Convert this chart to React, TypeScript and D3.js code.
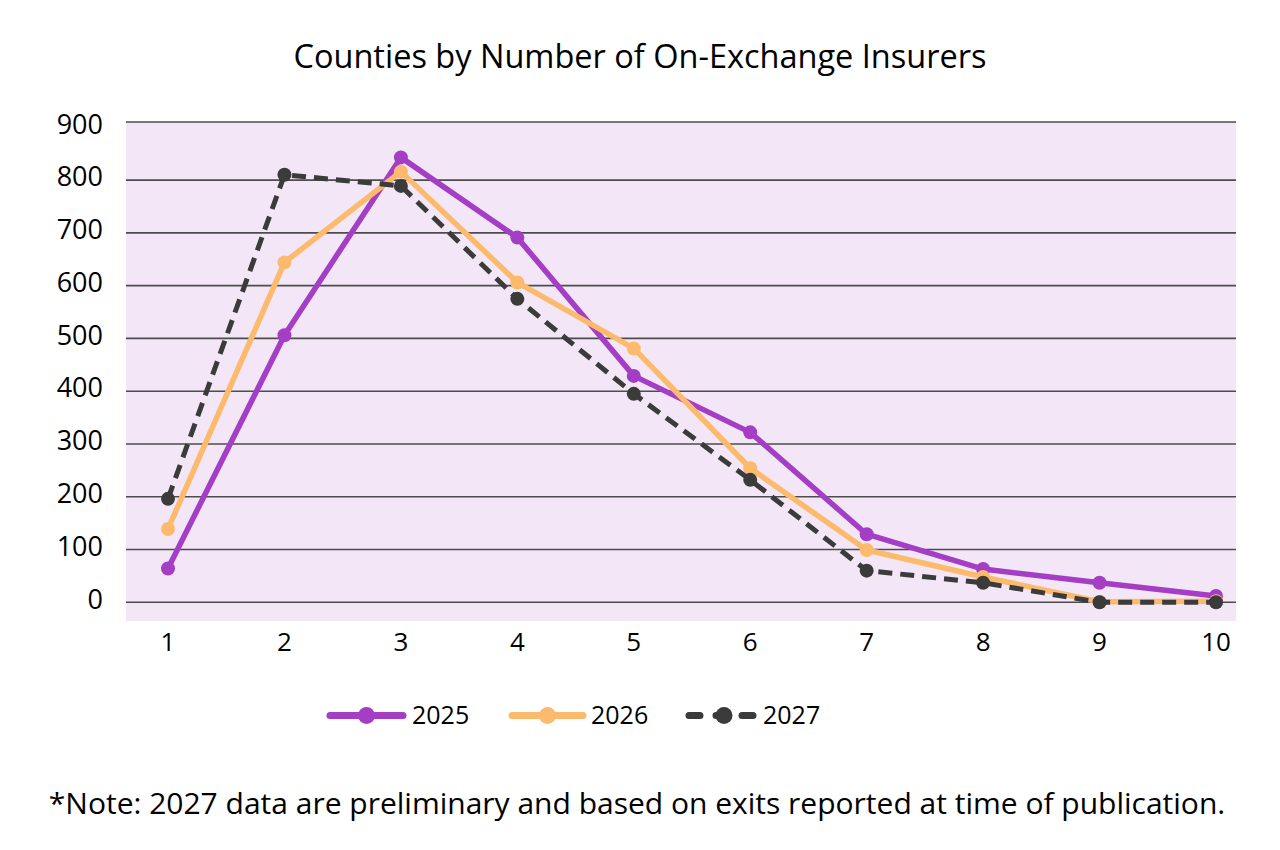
import * as d3 from "d3";

const categories = [1, 2, 3, 4, 5, 6, 7, 8, 9, 10];
const values2025 = [64, 506, 843, 691, 429, 322, 129, 63, 37, 12];
const values2026 = [139, 644, 816, 606, 481, 254, 99, 48, 1, 2];
const values2027 = [196, 810, 789, 575, 395, 232, 60, 37, 0, 0];
const yTicks = [0, 100, 200, 300, 400, 500, 600, 700, 800, 900];

const series = [
    { name: "2025", values: values2025, color: "#A43EC5", dash: null as string | null },
    { name: "2026", values: values2026, color: "#FCBA6C", dash: null as string | null },
    { name: "2027", values: values2027, color: "#3B3B3B", dash: "14 8" },
];

const W = 1280;
const H = 850;
const FONT = "'Open Sans', 'Noto Sans', sans-serif";

export default function App() {
    const x = d3.scaleLinear().domain([1, 10]).range([168, 1216]);
    const y = d3.scaleLinear().domain([0, 900]).range([602.3, 127.3]);
    const plotLeft = 126;
    const plotRight = 1236;
    const plotTop = 122;
    const plotBottom = 621;

    const line = d3
        .line<number>()
        .x((_, i) => x(categories[i]))
        .y((v) => y(v));

    // legend swatch extents and label start
    const legend = [
        { x0: 330, x1: 403, text: 412 },
        { x0: 512, x1: 583, text: 591 },
        { x0: 689, x1: 753, text: 763 },
    ];

    return (
        <svg width={W} height={H} style={{ position: "absolute", left: 0, top: 0 }}>
            <rect width={W} height={H} fill="#fff" />
            <text x={640} y={68} textAnchor="middle" fontFamily={FONT} fontSize={32.5} fill="#000">
                Counties by Number of On-Exchange Insurers
            </text>

            <rect
                x={plotLeft}
                y={plotTop}
                width={plotRight - plotLeft}
                height={plotBottom - plotTop}
                fill="#F3E6F7"
            />

            {yTicks.map((t) => {
                const yy = t === 900 ? plotTop : y(t);
                return (
                    <g key={t}>
                        <line x1={plotLeft} x2={plotRight} y1={yy} y2={yy} stroke="#4d4d4d" strokeWidth={1.6} />
                        <text
                            x={103}
                            y={y(t) - 1}
                            textAnchor="end"
                            dominantBaseline="middle"
                            fontFamily={FONT}
                            fontSize={27}
                            fill="#000"
                        >
                            {t}
                        </text>
                    </g>
                );
            })}

            {categories.map((c) => (
                <text
                    key={c}
                    x={x(c)}
                    y={651}
                    textAnchor="middle"
                    fontFamily={FONT}
                    fontSize={26}
                    fill="#000"
                >
                    {c}
                </text>
            ))}

            {series.map((s) => (
                <g key={s.name}>
                    <path
                        d={line(s.values) ?? ""}
                        fill="none"
                        stroke={s.color}
                        strokeWidth={s.dash ? 5 : 5.5}
                        strokeDasharray={s.dash ?? undefined}
                        strokeLinejoin="round"
                    />
                    {s.values.map((v, i) => (
                        <circle key={i} cx={x(categories[i])} cy={y(v)} r={7} fill={s.color} />
                    ))}
                </g>
            ))}

            {series.map((s, i) => {
                const l = legend[i];
                const cx = i === 2 ? 724 : (l.x0 + l.x1) / 2;
                return (
                    <g key={s.name}>
                        <line
                            x1={l.x0}
                            x2={l.x1}
                            y1={715.5}
                            y2={715.5}
                            stroke={s.color}
                            strokeWidth={7}
                            strokeLinecap="round"
                            strokeDasharray={s.dash ? "11 16 10 16 11" : undefined}
                        />
                        <circle cx={cx} cy={715.5} r={8.5} fill={s.color} />
                        <text
                            x={l.text}
                            y={724}
                            textAnchor="start"
                            fontFamily={FONT}
                            fontSize={25}
                            fill="#000"
                        >
                            {s.name}
                        </text>
                    </g>
                );
            })}

            <text x={637} y={814} textAnchor="middle" fontFamily={FONT} fontSize={30} fill="#000">
                *Note: 2027 data are preliminary and based on exits reported at time of publication.
            </text>
        </svg>
    );
}
